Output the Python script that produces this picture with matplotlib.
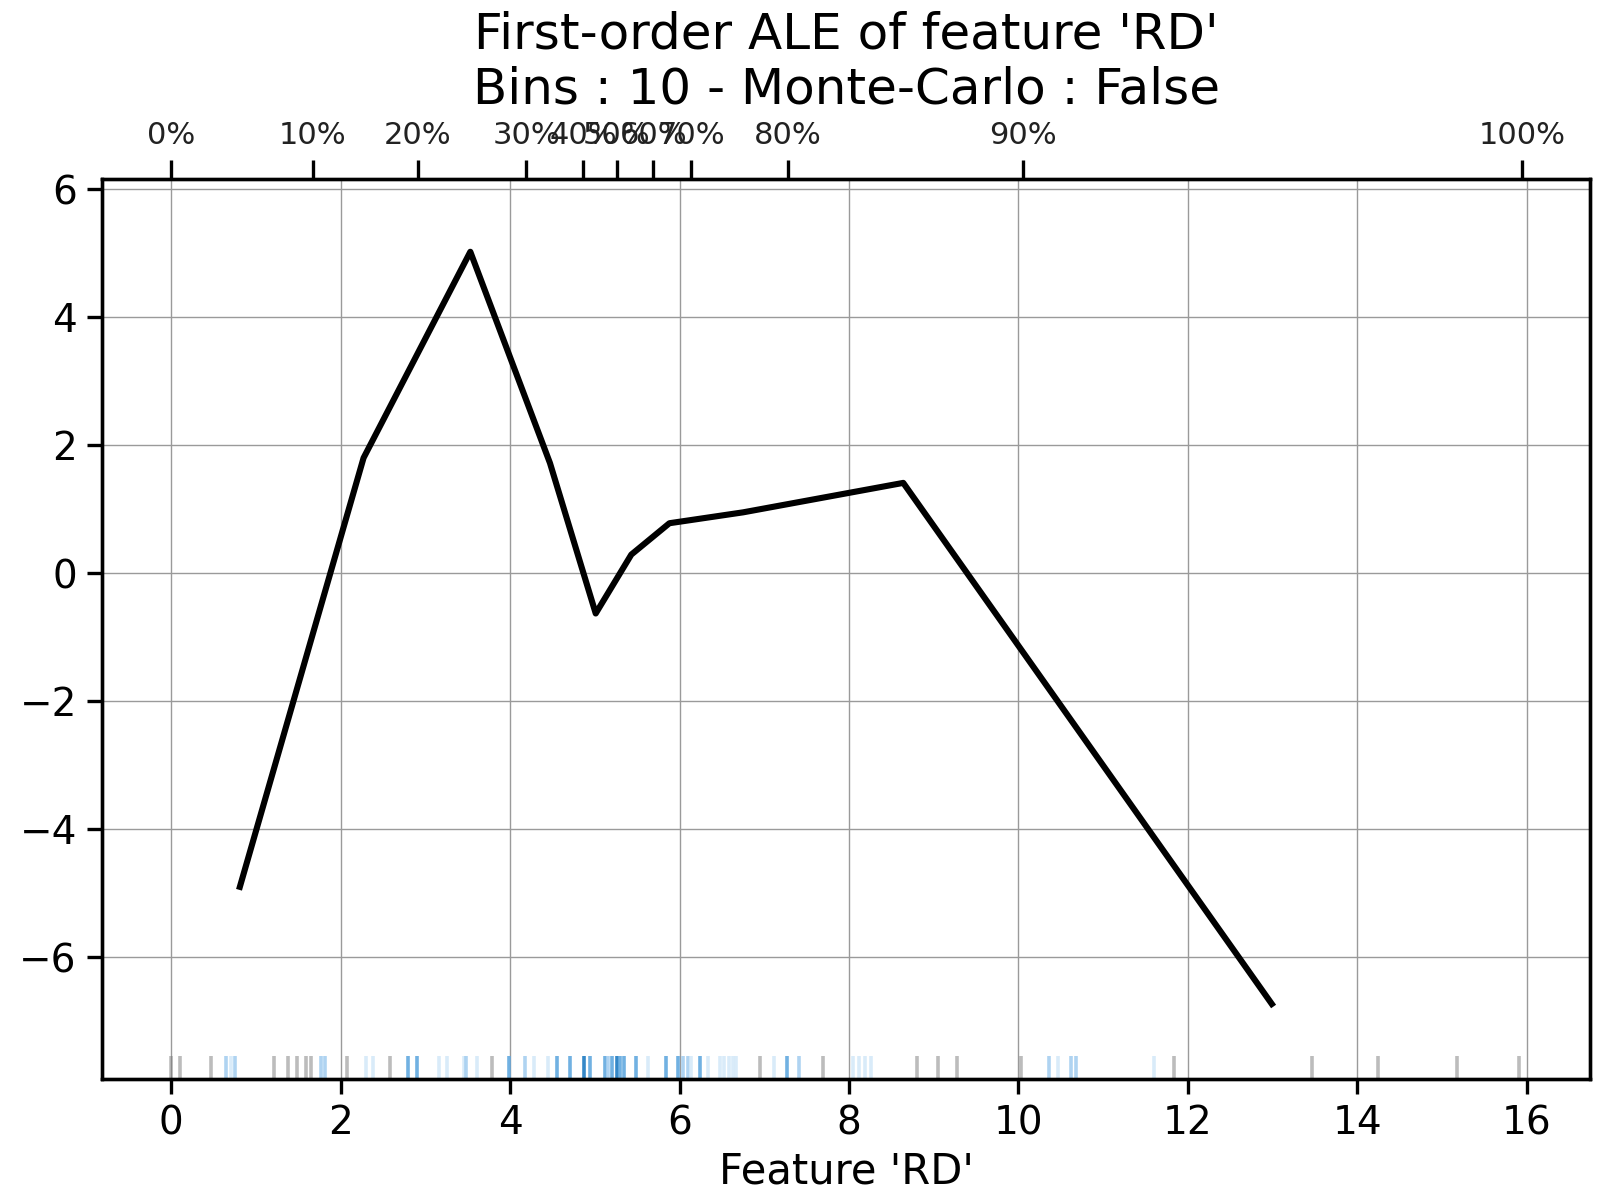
import numpy as np
import matplotlib
matplotlib.use('Agg')
import matplotlib.pyplot as plt
from matplotlib.colors import to_rgba

feature = 'RD'
n_bins = 10

# quantile bin edges (top axis) and ALE values at bin centres
edges = [0.0, 1.67, 2.91, 4.19, 4.86, 5.26, 5.69, 6.14, 7.28, 10.05, 15.94]
quant_labels = ['0%', '10%', '20%', '30%', '40%', '50%', '60%', '70%', '80%', '90%', '100%']
ale_x = [0.81, 2.27, 3.53, 4.47, 5.01, 5.43, 5.88, 6.75, 8.64, 12.99]
ale_y = [-4.90, 1.80, 5.02, 1.72, -0.63, 0.29, 0.78, 0.95, 1.41, -6.73]

# rug of observed feature values, with a shade level 0 (grey) .. 4 (dark blue)
rug_x = [0.0, 0.1, 0.47, 0.65, 0.70, 0.75, 1.21, 1.38, 1.49, 1.59, 1.65, 1.77, 1.81,
         2.08, 2.30, 2.38, 2.58, 2.80, 2.90, 3.16, 3.25, 3.45, 3.48, 3.61, 3.78,
         3.99, 4.18, 4.28, 4.45, 4.55, 4.71, 4.87, 4.94, 5.12, 5.16, 5.20, 5.26,
         5.30, 5.34, 5.48, 5.63, 5.84, 5.98, 6.04, 6.10, 6.14, 6.24, 6.34, 6.48,
         6.53, 6.58, 6.63, 6.67, 6.95, 7.12, 7.27, 7.41, 7.69, 8.05, 8.12, 8.19,
         8.26, 8.80, 9.05, 9.28, 10.03, 10.36, 10.47, 10.62, 10.68, 11.60, 11.84,
         13.47, 14.24, 15.17, 15.91]
rug_level = [0, 0, 0, 2, 1, 2, 0, 0, 0, 0, 0, 2, 2,
             0, 1, 1, 0, 3, 3, 1, 1, 1, 2, 1, 0,
             3, 2, 1, 1, 3, 3, 4, 3, 3, 2, 3, 4,
             3, 3, 3, 1, 3, 3, 2, 2, 1, 3, 1, 1,
             1, 1, 1, 1, 0, 1, 3, 2, 0, 1, 1, 1,
             1, 0, 0, 0, 0, 2, 1, 2, 2, 1, 0,
             0, 0, 0, 0]

shades = {0: to_rgba('#7a7a7a', 0.5), 1: to_rgba('#d3e8f8', 0.85),
          2: to_rgba('#a6cff0', 0.9), 3: to_rgba('#62a9df', 0.9),
          4: to_rgba('#3588c8', 1.0)}

fig = plt.figure(figsize=(8, 6), dpi=200)
ax = fig.add_axes([0.0636, 0.1006, 0.9304, 0.7504])

ax.grid(True, color='#9a9a9a', linewidth=0.5)
ax.set_axisbelow(True)
ax.plot(ale_x, ale_y, color='black', linewidth=2.2, zorder=3)

ymin, ymax = -7.906, 6.16
ax.set_ylim(ymin, ymax)
ax.set_xlim(-0.82, 16.75)
ax.vlines(rug_x, ymin, ymin + 0.36, colors=[shades[l] for l in rug_level],
          linewidth=1.3, zorder=2)

ax.set_xticks(range(0, 17, 2))
ax.set_yticks([-6, -4, -2, 0, 2, 4, 6])
ax.tick_params(axis='both', labelsize=14, width=1.2, length=5.5)
ax.set_xlabel(f"Feature '{feature}'", fontsize=15, labelpad=3)
for s in ax.spines.values():
    s.set_linewidth(1.2)

ax2 = ax.twiny()
ax2.set_xlim(ax.get_xlim())
ax2.set_xticks(edges)
ax2.set_xticklabels(quant_labels, fontsize=11, color='#222222')
ax2.tick_params(axis='x', width=1.2, length=7)
for s in ax2.spines.values():
    s.set_linewidth(1.2)

ax.set_title(f"First-order ALE of feature '{feature}'\nBins : {n_bins} - Monte-Carlo : False",
             fontsize=18, pad=27, linespacing=1.2)

fig.savefig('out.png', dpi=200)
